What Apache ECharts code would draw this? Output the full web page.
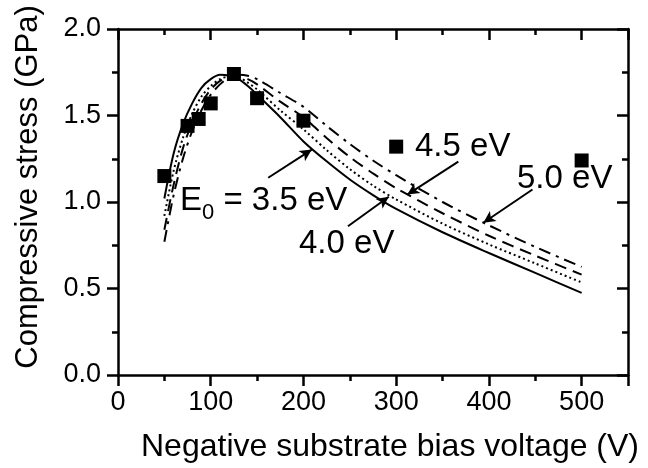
<!DOCTYPE html>
<html><head><meta charset="utf-8">
<script src="https://cdn.jsdelivr.net/npm/echarts@6/dist/echarts.min.js"></script>
<style>html,body{margin:0;padding:0;background:#fff}#c{width:648px;height:468px}</style>
</head><body><div id="c"></div>
<script>
// Measured data (squares)
const measBias = [50, 75, 87, 100, 125, 150, 200, 300, 500];
const measStress = [1.15, 1.44, 1.48, 1.57, 1.74, 1.60, 1.47, 1.32, 1.24];
// Model curves
const curveBias = [50,60,70,80,90,100,110,120,130,140,150,175,200,225,250,275,300,350,400,450,500];
const e35 = [1.02,1.28,1.45,1.57,1.66,1.71,1.735,1.73,1.71,1.67,1.62,1.49,1.35,1.235,1.13,1.04,0.96,0.825,0.705,0.59,0.475];
const e40 = [0.92,1.18,1.37,1.51,1.61,1.67,1.71,1.725,1.72,1.69,1.65,1.53,1.42,1.30,1.19,1.095,1.015,0.875,0.755,0.645,0.535];
const e45 = [0.84,1.10,1.31,1.46,1.57,1.65,1.70,1.72,1.725,1.71,1.68,1.58,1.49,1.37,1.26,1.165,1.08,0.935,0.805,0.69,0.58];
const e50 = [0.77,1.04,1.25,1.41,1.53,1.62,1.68,1.72,1.735,1.73,1.71,1.63,1.55,1.44,1.335,1.24,1.155,1.0,0.865,0.74,0.625];
// Annotation arrows (data coordinates: from -> to)
const arrows = [
  [[162, 1.14], [209, 1.303]],
  [[248, 0.86], [292, 1.03]],
  [[367, 1.233], [312, 1.043]],
  [[447, 1.072], [394, 0.88]]
];
const xTicks = {min: 0, max: 550, interval: 100};
const yTicks = {min: 0, max: 2.0, interval: 0.5};

const FONT = 'Liberation Sans, Arial, sans-serif';
const chart = echarts.init(document.getElementById('c'), null, {renderer: 'canvas'});
const pairs = (xs, ys) => xs.map((x, i) => [x, ys[i]]);
const axisLineStyle = {color: '#000', width: 2.5};
const tickStyle = {width: 2.5, color: '#000'};
function mkCurve(name, ys, type) {
  return {name, type: 'line', data: pairs(curveBias, ys), smooth: 0.3, showSymbol: false,
    lineStyle: {color: '#000', width: 2, type: type}, z: 3, silent: true};
}
function mirrorAxis(base, pos) {
  return Object.assign({}, base, {position: pos,
    axisLine: {show: true, onZero: false, lineStyle: axisLineStyle},
    axisTick: {show: true, inside: true, length: 11, lineStyle: tickStyle},
    minorTick: {show: true, splitNumber: 2, length: 6, lineStyle: tickStyle},
    splitLine: {show: false}, axisLabel: {show: false}});
}
const xBase = {type: 'value', min: xTicks.min, max: xTicks.max, interval: xTicks.interval};
const yBase = {type: 'value', min: yTicks.min, max: yTicks.max, interval: yTicks.interval};
const option = {
  animation: false,
  backgroundColor: '#fff',
  grid: {left: 118, right: 20, top: 29, bottom: 92},
  xAxis: [Object.assign({}, xBase, {
    position: 'bottom',
    axisLine: {show: true, onZero: false, lineStyle: axisLineStyle},
    axisTick: {show: true, inside: false, length: 11, lineStyle: tickStyle},
    minorTick: {show: true, splitNumber: 2, length: 6, lineStyle: tickStyle},
    splitLine: {show: false},
    axisLabel: {show: true, showMaxLabel: false, fontSize: 27, color: '#000', fontFamily: FONT, margin: 14},
    name: 'Negative substrate bias voltage (V)', nameLocation: 'middle', nameGap: 56,
    nameTextStyle: {fontSize: 32, color: '#000', fontFamily: FONT, padding: [0, 0, 0, 34]}
  }), mirrorAxis(xBase, 'top')],
  yAxis: [Object.assign({}, yBase, {
    position: 'left',
    axisLine: {show: true, onZero: false, lineStyle: axisLineStyle},
    axisTick: {show: true, inside: false, length: 11, lineStyle: tickStyle},
    minorTick: {show: true, splitNumber: 2, length: 6, lineStyle: tickStyle},
    splitLine: {show: false},
    axisLabel: {fontSize: 27, color: '#000', fontFamily: FONT, margin: 17, formatter: v => v.toFixed(1)},
    name: 'Compressive stress (GPa)', nameLocation: 'middle', nameGap: 74, nameRotate: 90,
    nameTextStyle: {fontSize: 31, color: '#000', fontFamily: FONT, padding: [0, 0, 0, 30]}
  }), mirrorAxis(yBase, 'right')],
  series: [
    mkCurve('3.5 eV', e35, 'solid'),
    mkCurve('4.0 eV', e40, [2, 3]),
    mkCurve('4.5 eV', e45, [12, 7]),
    mkCurve('5.0 eV', e50, [12, 6, 3, 6]),
    {
      name: 'measured', type: 'scatter', data: pairs(measBias, measStress), symbol: 'rect', symbolSize: 14,
      itemStyle: {color: '#000', opacity: 1}, z: 5, silent: true,
      markLine: {
        silent: true, symbol: ['none', 'arrow'], symbolSize: [9, 12], label: {show: false},
        lineStyle: {color: '#000', width: 2, type: 'solid', opacity: 1},
        data: arrows.map(a => [{coord: a[0]}, {coord: a[1]}])
      }
    }
  ],
  graphic: [
    {type: 'text', left: 180, top: 184, style: {
      rich: {a: {fontSize: 33, fontFamily: FONT, fill: '#000'}, s: {fontSize: 22, fontFamily: FONT, fill: '#000', padding: [24, 0, 0, 0]}},
      text: '{a|E}{s|0}{a| = 3.5 eV}', fill: '#000'}},
    {type: 'text', left: 299, top: 227, style: {text: '4.0 eV', fontSize: 33, fontFamily: FONT, fill: '#000'}},
    {type: 'text', left: 415, top: 130, style: {text: '4.5 eV', fontSize: 33, fontFamily: FONT, fill: '#000'}},
    {type: 'text', left: 517, top: 162, style: {text: '5.0 eV', fontSize: 33, fontFamily: FONT, fill: '#000'}}
  ]
};
chart.setOption(option);
</script></body></html>
